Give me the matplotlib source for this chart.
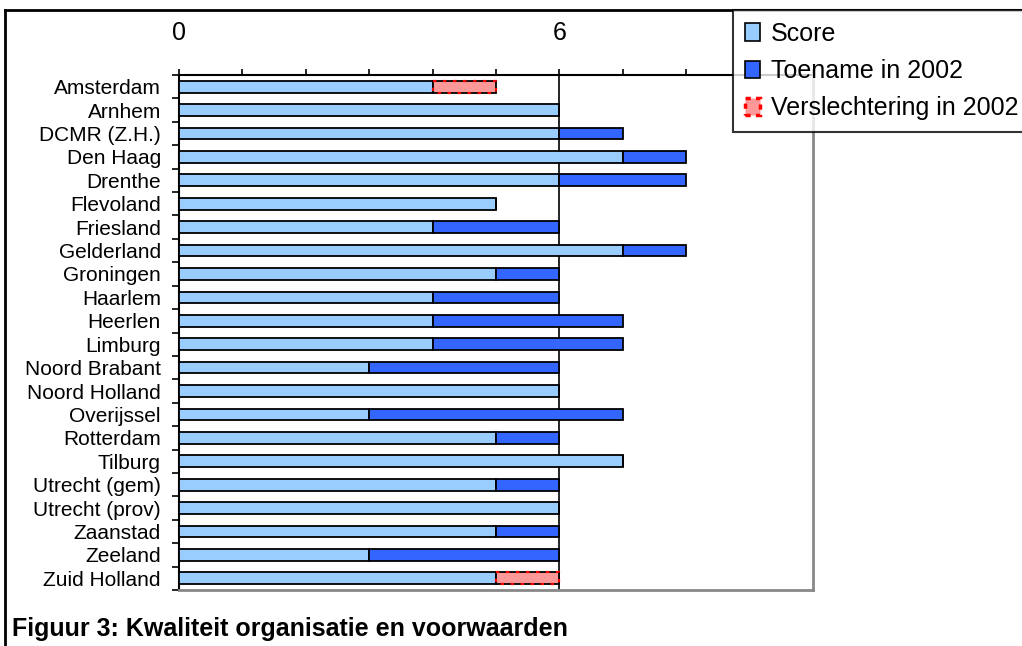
import matplotlib
matplotlib.use("Agg")
import matplotlib.pyplot as plt
from matplotlib.lines import Line2D
from matplotlib.patches import Patch
from matplotlib.ticker import MultipleLocator, NullFormatter
import numpy as np

plt.rcParams["font.family"] = ["Liberation Sans", "DejaVu Sans"]

regions = ["Amsterdam", "Arnhem", "DCMR (Z.H.)", "Den Haag", "Drenthe", "Flevoland",
           "Friesland", "Gelderland", "Groningen", "Haarlem", "Heerlen", "Limburg",
           "Noord Brabant", "Noord Holland", "Overijssel", "Rotterdam", "Tilburg",
           "Utrecht (gem)", "Utrecht (prov)", "Zaanstad", "Zeeland", "Zuid Holland"]
score = [4, 6, 6, 7, 6, 5, 4, 7, 5, 4, 4, 4, 3, 6, 3, 5, 7, 5, 6, 5, 3, 5]
toename = [0, 0, 1, 1, 2, 0, 2, 1, 1, 2, 3, 3, 3, 0, 4, 1, 0, 1, 0, 1, 3, 0]
verslechtering = [1, 0, 0, 0, 0, 0, 0, 0, 0, 0, 0, 0, 0, 0, 0, 0, 0, 0, 0, 0, 0, 1]

c_score = "#99CCFF"
c_toename = "#3366FF"
c_versl = "#FF9999"

fig = plt.figure(figsize=(10.22, 6.46), dpi=100)
ax = fig.add_axes([179 / 1022, 1 - 590 / 646, (813 - 179) / 1022, (590 - 75) / 646])

y = np.arange(len(regions))
h = 0.5
ax.barh(y, score, height=h, color=c_score, edgecolor="black", linewidth=1.3, zorder=3)
ax.barh(y, toename, left=score, height=h, color=c_toename, edgecolor="black",
        linewidth=1.3, zorder=3)
vmask = np.array(verslechtering) > 0
ax.barh(y[vmask], np.array(verslechtering)[vmask], left=np.array(score)[vmask], height=h,
        color=c_versl, edgecolor="black", linewidth=1.3, zorder=3)
ax.barh(y[vmask], np.array(verslechtering)[vmask], left=np.array(score)[vmask], height=h,
        facecolor="none", edgecolor="red", linewidth=1.6, linestyle=(0, (1.5, 3)), zorder=4)

ax.set_xlim(0, 10)
ax.set_ylim(len(regions) - 0.5, -0.5)

ax.xaxis.tick_top()
ax.xaxis.set_major_locator(MultipleLocator(6))
ax.xaxis.set_minor_locator(MultipleLocator(1))
ax.tick_params(axis="x", which="both", direction="out", length=4.5, width=1.2,
               labelsize=18, pad=17, colors="black")
ax.xaxis.grid(True, which="major", color="black", linewidth=1.2, zorder=2)

ax.set_yticks(y)
ax.set_yticklabels(regions)
ax.set_yticks(np.arange(len(regions) + 1) - 0.5, minor=True)
ax.yaxis.set_minor_formatter(NullFormatter())
ax.tick_params(axis="y", which="major", length=0, pad=13, labelsize=15)
ax.tick_params(axis="y", which="minor", direction="out", length=5, width=1.2)

ax.spines["top"].set_linewidth(1.5)
ax.spines["left"].set_linewidth(1.5)
for s in ("right", "bottom"):
    ax.spines[s].set_color("#888888")
    ax.spines[s].set_linewidth(2)

handles = [
    Patch(facecolor=c_score, edgecolor="black", linewidth=1.2, label="Score"),
    Patch(facecolor=c_toename, edgecolor="black", linewidth=1.2, label="Toename in 2002"),
    Patch(facecolor=c_versl, edgecolor="red", linewidth=2.5, linestyle=(0, (1.5, 1.5)),
          label="Verslechtering in 2002"),
]
leg = fig.legend(handles=handles, loc="upper left", bbox_to_anchor=(733 / 1022, 1 - 10 / 646),
                 fontsize=18, frameon=True, fancybox=False, edgecolor="black",
                 handlelength=0.6, handleheight=0.7, handletextpad=0.45,
                 labelspacing=0.53, borderpad=0.47, borderaxespad=0)
leg.get_frame().set_linewidth(1.5)

# outer frame of the figure
fig.add_artist(Line2D([5 / 1022, 5 / 1022], [0, 1 - 10 / 646], color="black", lw=2))
fig.add_artist(Line2D([5 / 1022, 1], [1 - 10 / 646, 1 - 10 / 646], color="black", lw=2))

fig.text(12 / 1022, 1 - 629 / 646, "Figuur 3: Kwaliteit organisatie en voorwaarden",
         fontsize=18, fontweight="bold", va="center", ha="left")

fig.savefig("out.png", dpi=100)
